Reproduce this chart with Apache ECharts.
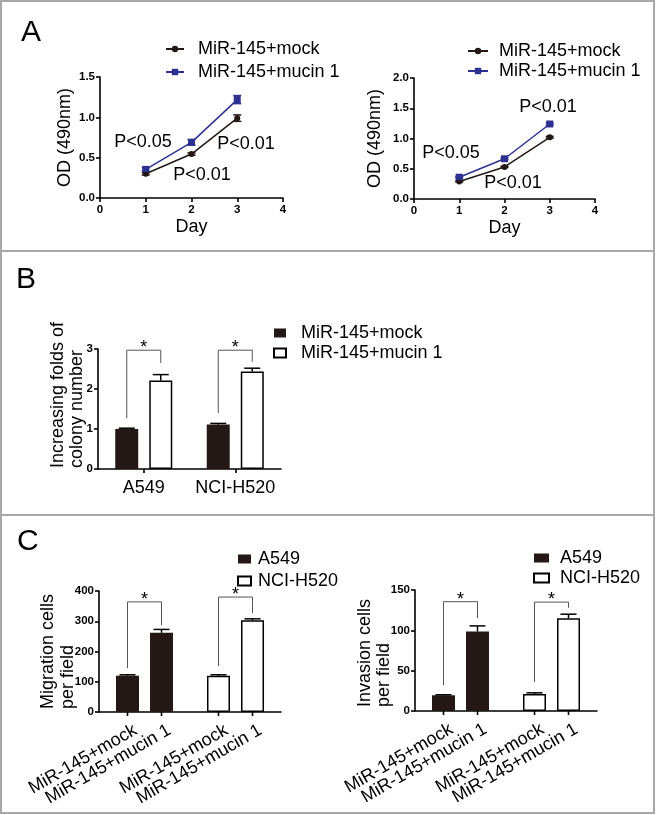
<!DOCTYPE html>
<html><head><meta charset="utf-8">
<script src="https://cdn.jsdelivr.net/npm/echarts@6/dist/echarts.min.js"></script>
<style>html,body{margin:0;padding:0;background:#fff}#c{width:656px;height:815px}</style>
</head><body><div id="c"></div>
<script>
// ---------- data ----------
const days = [1, 2, 3];
const seriesNamesA = ['MiR-145+mock', 'MiR-145+mucin 1'];
const a1Mock = [0.30, 0.545, 0.99];
const a1MockErr = [0.015, 0.015, 0.04];
const a1Mucin = [0.355, 0.69, 1.22];
const a1MucinErr = [0.02, 0.035, 0.05];
const a2Mock = [0.29, 0.53, 1.02];
const a2MockErr = [0.01, 0.01, 0.015];
const a2Mucin = [0.36, 0.665, 1.24];
const a2MucinErr = [0.015, 0.015, 0.02];
const pLabelsA1 = ['P<0.05', 'P<0.01', 'P<0.01'];
const pLabelsA2 = ['P<0.01', 'P<0.05', 'P<0.01'];

const bCategories = ['A549', 'NCI-H520'];
const bMock = [1.0, 1.11];
const bMockErr = [0.02, 0.03];
const bMucin = [2.21, 2.44];
const bMucinErr = [0.15, 0.08];
const bBrackets = [[0, 2.97, 1.27, 2.65], [1, 2.97, 1.4, 2.68]];

const cLabels = ['MiR-145+mock', 'MiR-145+mucin 1'];
const cLegend = ['A549', 'NCI-H520'];
const migMock = [120, 120];
const migMockErr = [3, 3];
const migMucin = [262, 303];
const migMucinErr = [11, 5];
const migBrackets = [[0, 364, 145, 287], [1, 380, 152, 327]];
const invMock = [19.5, 21];
const invMockErr = [0.6, 1.5];
const invMucin = [98.5, 115];
const invMucinErr = [7, 5];
const invBrackets = [[0, 135.5, 32, 115], [1, 135, 36, 128]];

// ---------- styles ----------
const FONT = '"Liberation Sans", Arial, Helvetica, sans-serif';
const DARK = '#231815';
const BLUE = '#2e3192';
const OFF = 17, CAP = 8, BARW = 23;

function xVal(gi, name) {
  return {
    type: 'value', gridIndex: gi, min: 0, max: 4, interval: 1,
    name: name, nameLocation: 'middle', nameGap: 20, nameMoveOverlap: false,
    nameTextStyle: { fontSize: 18, fontFamily: FONT, color: '#000' },
    axisLine: { show: true, onZero: false, lineStyle: { color: '#000', width: 1.6 } },
    axisTick: { show: true, length: 4, lineStyle: { color: '#000', width: 1.6 } },
    splitLine: { show: false },
    axisLabel: { color: '#000', fontFamily: FONT, fontWeight: 'bold', fontSize: 11.5, margin: 6 }
  };
}
function yVal(gi, max, interval, fmt, name, gap) {
  return {
    type: 'value', gridIndex: gi, min: 0, max: max, interval: interval,
    name: name || '', nameLocation: 'middle', nameGap: gap || 0, nameMoveOverlap: false,
    nameTextStyle: { fontSize: 18, fontFamily: FONT, color: '#000' },
    axisLine: { show: true, onZero: false, lineStyle: { color: '#000', width: 1.6 } },
    axisTick: { show: true, length: 4, lineStyle: { color: '#000', width: 1.6 } },
    splitLine: { show: false },
    axisLabel: { color: '#000', fontFamily: FONT, fontWeight: 'bold', fontSize: 11.5, margin: 5, formatter: fmt }
  };
}
function xCat(gi, showLabels) {
  return {
    type: 'category', gridIndex: gi, data: gi === 2 ? bCategories : cLegend,
    axisLine: { show: true, onZero: false, lineStyle: { color: '#000', width: 1.6 } },
    axisTick: { show: showLabels, alignWithLabel: true, interval: 0, length: 4, lineStyle: { color: '#000', width: 1.6 } },
    axisLabel: { show: showLabels, interval: 0, hideOverlap: false, color: '#000', fontFamily: FONT, fontSize: 18, margin: 10 }
  };
}

// ---------- render helpers ----------
function lineErr(params, api) {
  const x = api.value(0), v = api.value(1), e = api.value(2);
  const a = api.coord([x, v - e]), b = api.coord([x, v + e]);
  const st = { stroke: api.visual('color'), lineWidth: 1.5 };
  return { type: 'group', children: [
    { type: 'line', shape: { x1: a[0], y1: a[1], x2: b[0], y2: b[1] }, style: st },
    { type: 'line', shape: { x1: a[0] - 4, y1: a[1], x2: a[0] + 4, y2: a[1] }, style: st },
    { type: 'line', shape: { x1: b[0] - 4, y1: b[1], x2: b[0] + 4, y2: b[1] }, style: st }
  ] };
}
function barErr(params, api) {
  const cat = api.value(0), side = api.value(1), v = api.value(2), e = api.value(3);
  const p0 = api.coord([cat, v]), p1 = api.coord([cat, v + e]);
  const x = p0[0] + (side ? OFF : -OFF);
  const st = { stroke: '#000', lineWidth: 1.5 };
  return { type: 'group', children: [
    { type: 'line', shape: { x1: x, y1: p0[1], x2: x, y2: p1[1] }, style: st },
    { type: 'line', shape: { x1: x - CAP, y1: p1[1], x2: x + CAP, y2: p1[1] }, style: st }
  ] };
}
function bracket(params, api) {
  const cat = api.value(0), top = api.value(1), l = api.value(2), r = api.value(3);
  const c = api.coord([cat, top]);
  const yl = api.coord([cat, l])[1], yr = api.coord([cat, r])[1];
  const xl = c[0] - OFF, xr = c[0] + OFF;
  return { type: 'group', children: [
    { type: 'polyline', shape: { points: [[xl, yl], [xl, c[1]], [xr, c[1]], [xr, yr]] },
      style: { stroke: '#555', lineWidth: 1, fill: 'none' } },
    { type: 'text', x: (xl + xr) / 2, y: c[1] - 2,
      style: { text: '*', font: '18px ' + FONT, fill: '#000', align: 'center', verticalAlign: 'middle' } }
  ] };
}
function cLabel(params, api) {
  const cat = api.value(0), side = api.value(1);
  const p = api.coord([cat, 0]);
  const x = p[0] + (side ? OFF : -OFF);
  return { type: 'group', children: [
    { type: 'line', shape: { x1: x, y1: p[1], x2: x, y2: p[1] + 4 }, style: { stroke: '#000', lineWidth: 1.6 } },
    { type: 'text', x: x + 8, y: p[1] + 17, rotation: Math.PI / 6,
      style: { text: cLabels[side], font: '18px ' + FONT, fill: '#000', align: 'right', verticalAlign: 'middle' } }
  ] };
}

const errData = (xs, v, e) => xs.map((x, i) => [x, v[i], e[i]]);
const barErrData = (m, me, u, ue) => [[0, 0, m[0], me[0]], [1, 0, m[1], me[1]], [0, 1, u[0], ue[0]], [1, 1, u[1], ue[1]]];
const labelData = cLegend.flatMap((_, ci) => cLabels.map((__, si) => [ci, si]));
const groupFill = [DARK, '#fff'];
const cBarData = vals => vals.map((v, i) => ({ value: v, itemStyle: { color: groupFill[i], borderColor: '#000', borderWidth: i ? 1.5 : 0 } }));

function lineSeries(name, gi, data, color, symbol, size) {
  return { name: name, type: 'line', xAxisIndex: gi, yAxisIndex: gi,
    data: days.map((d, i) => [d, data[i]]), symbol: symbol, symbolSize: size,
    lineStyle: { color: color, width: 1.5 }, itemStyle: { color: color }, z: 3, silent: true };
}
function customS(gi, data, fn, enc, color) {
  return { type: 'custom', xAxisIndex: gi, yAxisIndex: gi, coordinateSystem: 'cartesian2d',
    data: data, renderItem: fn, encode: enc, silent: true, z: 4,
    itemStyle: color ? { color: color } : undefined };
}
function barS(name, gi, data, style) {
  return { name: name, type: 'bar', xAxisIndex: gi, yAxisIndex: gi, data: data,
    barWidth: BARW, barGap: '48%', itemStyle: style, silent: true, z: 2 };
}

const chart = echarts.init(document.getElementById('c'), null, { renderer: 'canvas' });
const legendText = (pad) => ({ fontSize: 18, fontFamily: FONT, color: '#000', padding: [0, 0, 0, pad] });
const txt = (t, x, y, extra) => Object.assign({ type: 'text', x: x, y: y,
  style: { text: t, font: '18px ' + FONT, fill: '#000', align: 'center', verticalAlign: 'middle' } }, extra || {});
const vtxt = (t, x, y) => ({ type: 'text', x: x, y: y, rotation: Math.PI / 2,
  style: { text: t, font: '18px ' + FONT, fill: '#000', align: 'left', verticalAlign: 'middle' } });

const option = {
  animation: false,
  backgroundColor: '#fff',
  grid: [
    { left: 100, top: 77, width: 183, height: 121, outerBoundsMode: 'none' },
    { left: 414, top: 78, width: 181, height: 121, outerBoundsMode: 'none' },
    { left: 98, top: 349, width: 183, height: 120, outerBoundsMode: 'none' },
    { left: 99, top: 591, width: 182, height: 121, outerBoundsMode: 'none' },
    { left: 415, top: 590, width: 182, height: 121, outerBoundsMode: 'none' }
  ],
  xAxis: [xVal(0, 'Day'), xVal(1, 'Day'), xCat(2, true), xCat(3, false), xCat(4, false)],
  yAxis: [
    yVal(0, 1.5, 0.5, v => v.toFixed(1), 'OD (490nm)', 26),
    yVal(1, 2.0, 0.5, v => v.toFixed(1), 'OD (490nm)', 30),
    yVal(2, 3, 1, v => String(v)),
    yVal(3, 400, 100, v => String(v)),
    yVal(4, 150, 50, v => String(v))
  ],
  legend: [
    { data: seriesNamesA, left: 165, top: 40, orient: 'vertical', padding: 0, itemWidth: 18, itemHeight: 8, itemGap: 5,
      textStyle: legendText(9), selectedMode: false },
    { data: seriesNamesA, left: 467, top: 42, orient: 'vertical', padding: 0, itemWidth: 20, itemHeight: 8, itemGap: 2,
      textStyle: legendText(6), selectedMode: false },
    { data: seriesNamesA.map(n => 'B ' + n), formatter: n => n.slice(2), left: 273, top: 324, orient: 'vertical', padding: 0,
      itemWidth: 12, itemHeight: 9, itemGap: 2, icon: 'rect', textStyle: legendText(10), selectedMode: false },
    { data: cLegend, left: 237, top: 550, orient: 'vertical', padding: 0,
      itemWidth: 13, itemHeight: 9, itemGap: 4, icon: 'rect', textStyle: legendText(2), selectedMode: false },
    { data: cLegend, left: 533, top: 549, orient: 'vertical', padding: 0,
      itemWidth: 15, itemHeight: 9, itemGap: 2, icon: 'rect', textStyle: legendText(6), selectedMode: false }
  ],
  series: [
    lineSeries(seriesNamesA[0], 0, a1Mock, DARK, 'circle', 6),
    lineSeries(seriesNamesA[1], 0, a1Mucin, BLUE, 'rect', 7),
    customS(0, errData(days, a1Mock, a1MockErr), lineErr, { x: 0, y: 1 }, DARK),
    customS(0, errData(days, a1Mucin, a1MucinErr), lineErr, { x: 0, y: 1 }, BLUE),
    lineSeries(seriesNamesA[0], 1, a2Mock, DARK, 'circle', 6),
    lineSeries(seriesNamesA[1], 1, a2Mucin, BLUE, 'rect', 7),
    customS(1, errData(days, a2Mock, a2MockErr), lineErr, { x: 0, y: 1 }, DARK),
    customS(1, errData(days, a2Mucin, a2MucinErr), lineErr, { x: 0, y: 1 }, BLUE),

    barS('B ' + seriesNamesA[0], 2, bMock, { color: DARK }),
    barS('B ' + seriesNamesA[1], 2, bMucin, { color: '#fff', borderColor: '#000', borderWidth: 1.5 }),
    customS(2, barErrData(bMock, bMockErr, bMucin, bMucinErr), barErr, { x: 0, y: 2 }),
    customS(2, bBrackets, bracket, { x: 0, y: 1 }),

    barS('C1 mock', 3, cBarData(migMock)),
    barS('C1 mucin', 3, cBarData(migMucin)),
    customS(3, barErrData(migMock, migMockErr, migMucin, migMucinErr), barErr, { x: 0, y: 2 }),
    customS(3, migBrackets, bracket, { x: 0, y: 1 }),
    customS(3, labelData, cLabel, { x: 0, y: 1 }),

    barS('C2 mock', 4, cBarData(invMock)),
    barS('C2 mucin', 4, cBarData(invMucin)),
    customS(4, barErrData(invMock, invMockErr, invMucin, invMucinErr), barErr, { x: 0, y: 2 }),
    customS(4, invBrackets, bracket, { x: 0, y: 1 }),
    customS(4, labelData, cLabel, { x: 0, y: 1 }),

    { name: cLegend[0], type: 'line', xAxisIndex: 3, yAxisIndex: 3, data: [],
      itemStyle: { color: DARK, borderColor: DARK, borderWidth: 0 }, lineStyle: { color: DARK } },
    { name: cLegend[1], type: 'line', xAxisIndex: 3, yAxisIndex: 3, data: [],
      itemStyle: { color: '#fff', borderColor: '#000', borderWidth: 1.5 }, lineStyle: { color: '#000' } }
  ],
  graphic: [
    { type: 'rect', shape: { x: 1, y: 1, width: 653, height: 250 }, style: { fill: 'none', stroke: '#a8a8a8', lineWidth: 2 }, silent: true },
    { type: 'rect', shape: { x: 1, y: 251, width: 653, height: 264 }, style: { fill: 'none', stroke: '#a8a8a8', lineWidth: 2 }, silent: true },
    { type: 'rect', shape: { x: 1, y: 515, width: 653, height: 298 }, style: { fill: 'none', stroke: '#a8a8a8', lineWidth: 2 }, silent: true },
    { type: 'text', x: 21, y: 33, style: { text: 'A', font: '30px ' + FONT, fill: '#000', verticalAlign: 'middle' } },
    { type: 'text', x: 16, y: 280, style: { text: 'B', font: '30px ' + FONT, fill: '#000', verticalAlign: 'middle' } },
    { type: 'text', x: 17, y: 542, style: { text: 'C', font: '30px ' + FONT, fill: '#000', verticalAlign: 'middle' } },
    // p-values panel A
    txt(pLabelsA1[0], 143, 142), txt(pLabelsA1[1], 246, 144), txt(pLabelsA1[2], 202, 175),
    txt(pLabelsA2[0], 548, 107), txt(pLabelsA2[1], 451, 153), txt(pLabelsA2[2], 513, 183),
    // y-axis titles B, C
    vtxt('Increasing folds of', 58, 468), vtxt('colony number', 77, 468),
    vtxt('Migration cells', 48, 709), vtxt('per field', 68, 709),
    vtxt('Invasion cells', 365, 707), vtxt('per field', 384, 707)
  ]
};
chart.setOption(option);
</script>
</body></html>
